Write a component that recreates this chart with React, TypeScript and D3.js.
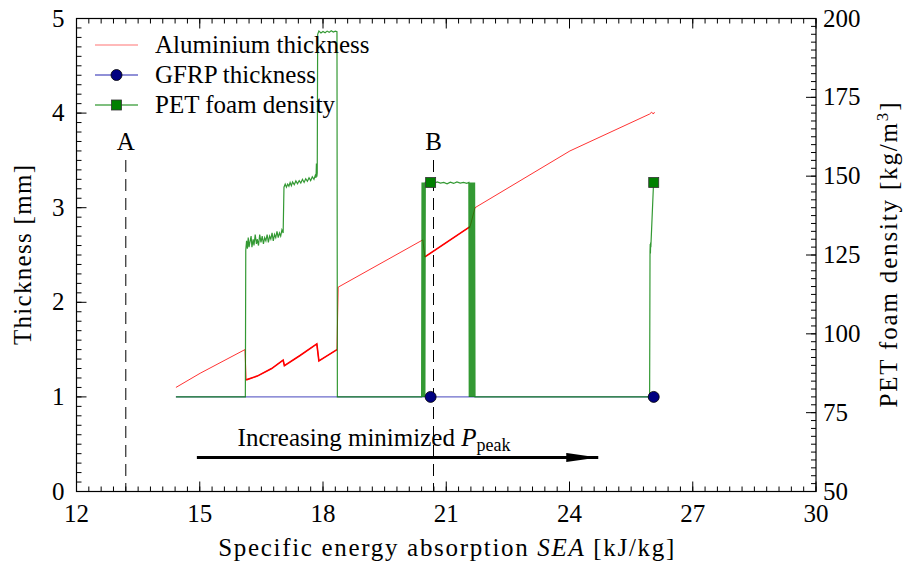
import React from 'react';
import * as d3 from 'd3';

// [SEA (kJ/kg), thickness (mm)]
const aluminium: [number, number][] = [
  [14.42, 1.10], [15.01, 1.25], [16.10, 1.50],
  [16.13, 1.18], [16.40, 1.22], [16.75, 1.30], [17.03, 1.39], [17.06, 1.33],
  [17.45, 1.44], [17.85, 1.56], [17.90, 1.38], [18.34, 1.50],
  [18.37, 2.16], [20.43, 2.66],
  [20.48, 2.48], [21.58, 2.80],
  [21.70, 3.00], [24.01, 3.60], [25.95, 3.99], [26.00, 4.01], [26.04, 3.99], [26.07, 4.01],
];
const aluminiumDense: [number, number][] = [[16.12, 18.34], [20.47, 21.58]];

// [SEA, thickness]
const gfrp: [number, number][] = [[14.42, 1.0], [20.62, 1.0], [26.05, 1.0]];
const gfrpMarkers: [number, number][] = [[20.62, 1.0], [26.05, 1.0]];

// [SEA, density (kg/m3)]
const petFoam: [number, number][] = [
  [14.42, 80], [16.11, 80],
  [16.12, 126.5], [16.14, 129.5], [16.16, 127.0], [16.18, 130.5], [16.20, 127.5], [16.22, 129.0],
  [16.25, 131.0], [16.27, 127.5], [16.30, 130.0], [16.32, 128.0], [16.35, 131.5], [16.38, 128.5],
  [16.40, 130.0], [16.43, 128.0], [16.46, 131.5], [16.49, 129.0], [16.52, 131.0], [16.55, 128.5],
  [16.58, 130.5], [16.61, 129.5], [16.64, 131.5], [16.67, 129.0], [16.70, 131.0], [16.73, 130.0],
  [16.76, 132.0], [16.79, 129.5], [16.82, 131.5], [16.85, 130.5], [16.88, 132.5], [16.91, 130.5],
  [16.94, 132.0], [16.97, 131.0], [17.00, 133.0], [17.03, 132.0],
  [17.05, 146.5], [17.08, 147.5], [17.11, 146.5], [17.14, 147.5], [17.17, 146.8], [17.20, 148.0],
  [17.23, 147.0], [17.26, 148.2], [17.30, 147.3], [17.34, 148.5], [17.38, 147.6], [17.42, 148.6],
  [17.46, 147.8], [17.50, 149.0], [17.54, 148.0], [17.58, 149.2], [17.62, 148.4], [17.66, 149.5],
  [17.70, 148.6], [17.74, 149.8], [17.78, 149.0], [17.81, 150.2], [17.83, 149.5], [17.84, 154.0],
  [17.85, 149.8], [17.86, 151.0],
  [17.87, 195.0], [17.90, 196.0], [17.95, 195.4], [18.00, 195.9], [18.05, 195.5], [18.10, 196.0],
  [18.15, 195.6], [18.20, 196.1], [18.25, 195.7], [18.30, 196.0], [18.34, 195.8],
  [18.35, 80], [20.40, 80],
  [20.41, 148], [20.42, 80], [20.43, 148], [20.44, 80], [20.45, 148], [20.46, 80], [20.47, 148],
  [20.48, 80], [20.49, 148], [20.50, 148],
  [20.55, 147.6], [20.62, 148.1], [20.70, 147.7], [20.78, 148.2], [20.86, 147.8], [20.94, 148.0],
  [21.02, 147.6], [21.10, 148.1], [21.18, 147.7], [21.26, 148.2], [21.34, 147.8], [21.42, 148.0],
  [21.50, 147.7], [21.55, 148],
  [21.56, 80], [21.57, 148], [21.58, 80], [21.59, 148], [21.60, 80], [21.61, 148], [21.62, 80],
  [21.63, 148], [21.64, 80], [21.65, 148], [21.66, 80], [21.67, 148], [21.68, 80], [21.69, 148],
  [21.70, 80],
  [25.95, 80], [25.96, 126], [25.965, 128.5], [25.97, 125.5], [25.975, 129], [25.98, 127.5],
  [26.04, 146], [26.05, 148],
];
const petMarkers: [number, number][] = [[20.62, 148], [26.05, 148]];

const xTicks = [12, 15, 18, 21, 24, 27, 30];
const leftTicks = [0, 1, 2, 3, 4, 5];
const rightTicks = [50, 75, 100, 125, 150, 175, 200];
const legendLabels = ['Aluminium thickness', 'GFRP thickness', 'PET foam density'];
const markLines = [{ label: 'A', sea: 13.2 }, { label: 'B', sea: 20.69 }];

const W = 908;
const H = 570;
const M = { left: 76.5, right: 816, top: 18.5, bottom: 491.5 };
const TS: React.CSSProperties = { fontFamily: 'Liberation Serif', fontSize: 25 };

const x = d3.scaleLinear().domain([12, 30]).range([M.left, M.right]);
const yL = d3.scaleLinear().domain([0, 5]).range([M.bottom, M.top]);
const yR = d3.scaleLinear().domain([50, 200]).range([M.bottom, M.top]);

const minor = (a: number, b: number, step: number) =>
  d3.range(Math.round((b - a) / step) + 1).map((i) => a + i * step);

export default function App() {
  const lineL = d3.line<[number, number]>().x((d) => x(d[0])).y((d) => yL(d[1]));
  const lineR = d3.line<[number, number]>().x((d) => x(d[0])).y((d) => yR(d[1]));

  const xMinor = minor(12, 30, 0.3);
  const lMinor = minor(0, 5, 0.1);
  const rMinor = minor(50, 200, 2.5);

  const legendY = [45, 75, 105];
  const blue = '#5050c0';

  return (
    <svg width={W} height={H} style={{ position: 'absolute', left: 0, top: 0, background: '#fff' }}>
      <rect width={W} height={H} fill="#fff" />

      {/* A / B markers */}
      {markLines.map((m) => (
        <g key={m.label}>
          <line
            x1={x(m.sea)} x2={x(m.sea)} y1={160} y2={M.bottom}
            stroke="#000" strokeWidth={1} strokeDasharray="12,7"
          />
          <text style={TS} x={x(m.sea)} y={150} textAnchor="middle">{m.label}</text>
        </g>
      ))}

      {/* aluminium */}
      <path d={lineL(aluminium) || ''} fill="none" stroke="#ff0000" strokeOpacity={0.8} strokeWidth={1} />
      {aluminiumDense.map(([a, b], i) => (
        <path
          key={i}
          d={lineL(aluminium.filter((d) => d[0] >= a && d[0] <= b)) || ''}
          fill="none" stroke="#ff0000" strokeWidth={1.6}
        />
      ))}

      {/* GFRP */}
      <path d={lineL(gfrp) || ''} fill="none" stroke={blue} strokeOpacity={0.85} strokeWidth={1.3} />

      {/* PET foam */}
      <path d={lineR(petFoam) || ''} fill="none" stroke="#008000" strokeOpacity={0.8} strokeWidth={1.2} />

      {gfrpMarkers.map((d, i) => (
        <circle key={i} cx={x(d[0])} cy={yL(d[1])} r={5.5} fill="#000080" stroke="#000" strokeWidth={0.8} />
      ))}
      {petMarkers.map((d, i) => (
        <rect key={i} x={x(d[0]) - 5} y={yR(d[1]) - 5} width={10} height={10} fill="#008000" stroke="#333" strokeWidth={0.8} />
      ))}

      {/* arrow annotation */}
      <defs>
        <marker id="arrowhead" viewBox="0 0 32 9" refX={32} refY={4.5} markerWidth={32} markerHeight={9} markerUnits="userSpaceOnUse" orient="auto">
          <path d="M0,0 L32,4.5 L0,9 Z" fill="#000" />
        </marker>
      </defs>
      <line x1={x(14.93)} x2={x(24.7)} y1={yL(0.36)} y2={yL(0.36)} stroke="#000" strokeWidth={3} markerEnd="url(#arrowhead)" />
      <text style={TS} x={374} y={446} textAnchor="middle">
        Increasing minimized <tspan fontStyle="italic">P</tspan>
        <tspan dy={5} style={{ fontSize: 18 }}>peak</tspan>
      </text>

      {/* legend */}
      {legendLabels.map((lab, i) => (
        <g key={lab}>
          {i === 0 && <line x1={95} x2={138} y1={legendY[i]} y2={legendY[i]} stroke="#ff0000" strokeOpacity={0.55} strokeWidth={1.2} />}
          {i === 1 && (
            <>
              <line x1={95} x2={138} y1={legendY[i]} y2={legendY[i]} stroke={blue} strokeOpacity={0.85} strokeWidth={1.3} />
              <circle cx={116.5} cy={legendY[i]} r={5.5} fill="#000080" stroke="#000" strokeWidth={0.8} />
            </>
          )}
          {i === 2 && (
            <>
              <line x1={95} x2={138} y1={legendY[i]} y2={legendY[i]} stroke="#008000" strokeWidth={1.2} />
              <rect x={111.5} y={legendY[i] - 5} width={10} height={10} fill="#008000" stroke="#333" strokeWidth={0.8} />
            </>
          )}
          <text style={TS} x={155} y={legendY[i] + 8}>{lab}</text>
        </g>
      ))}

      {/* frame */}
      <rect x={M.left} y={M.top} width={M.right - M.left} height={M.bottom - M.top} fill="none" stroke="#000" strokeWidth={1.2} />

      {/* ticks */}
      <g stroke="#000" strokeWidth={1}>
        {xMinor.map((v) => (
          <g key={'xm' + v}>
            <line x1={x(v)} x2={x(v)} y1={M.bottom} y2={M.bottom - 5} />
            <line x1={x(v)} x2={x(v)} y1={M.top} y2={M.top + 5} />
          </g>
        ))}
        {xTicks.map((v) => (
          <g key={'xM' + v}>
            <line x1={x(v)} x2={x(v)} y1={M.bottom} y2={M.bottom - 10} />
            <line x1={x(v)} x2={x(v)} y1={M.top} y2={M.top + 10} />
          </g>
        ))}
        {lMinor.map((v) => (
          <line key={'lm' + v} x1={M.left} x2={M.left + 5} y1={yL(v)} y2={yL(v)} />
        ))}
        {leftTicks.map((v) => (
          <line key={'lM' + v} x1={M.left} x2={M.left + 10} y1={yL(v)} y2={yL(v)} />
        ))}
        {rMinor.map((v) => (
          <line key={'rm' + v} x1={M.right} x2={M.right - 5} y1={yR(v)} y2={yR(v)} />
        ))}
        {rightTicks.map((v) => (
          <line key={'rM' + v} x1={M.right} x2={M.right - 10} y1={yR(v)} y2={yR(v)} />
        ))}
      </g>

      {/* tick labels */}
      {xTicks.map((v) => (
        <text key={'xl' + v} style={TS} x={x(v)} y={M.bottom + 30} textAnchor="middle">{v}</text>
      ))}
      {leftTicks.map((v) => (
        <text key={'ll' + v} style={TS} x={M.left - 12} y={yL(v) + 8} textAnchor="end">{v}</text>
      ))}
      {rightTicks.map((v) => (
        <text key={'rl' + v} style={TS} x={M.right + 7} y={yR(v) + 8} textAnchor="start">{v}</text>
      ))}

      {/* axis titles */}
      <text style={TS} x={(M.left + M.right) / 2} y={556} textAnchor="middle" textLength={456} lengthAdjust="spacing">
        Specific energy absorption <tspan fontStyle="italic">SEA</tspan> [kJ/kg]
      </text>
      <text style={TS} transform={`translate(31,${(M.top + M.bottom) / 2}) rotate(-90)`} textAnchor="middle" textLength={180} lengthAdjust="spacing">
        Thickness [mm]
      </text>
      <text style={TS} transform={`translate(897,${(M.top + M.bottom) / 2}) rotate(-90)`} textAnchor="middle" textLength={305} lengthAdjust="spacing">
        PET foam density [kg/m<tspan dy={-9} style={{ fontSize: 17 }}>3</tspan><tspan dy={9}>]</tspan>
      </text>
    </svg>
  );
}
